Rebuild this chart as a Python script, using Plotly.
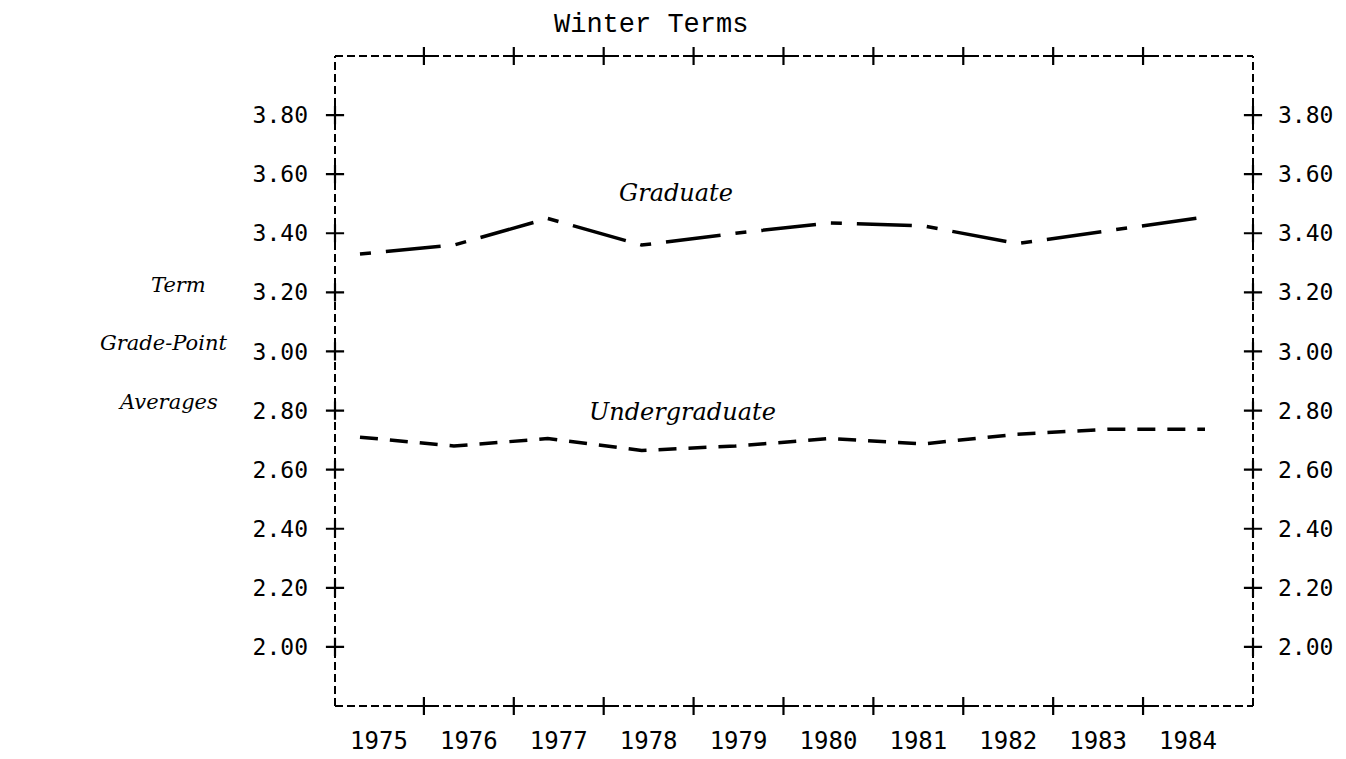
import plotly.graph_objects as go

# ---- data ----
years = [1975, 1976, 1977, 1978, 1979, 1980, 1981, 1982, 1983, 1984]
graduate = [3.33, 3.36, 3.45, 3.36, 3.40, 3.435, 3.425, 3.365, 3.41, 3.455]
undergraduate = [2.71, 2.68, 2.705, 2.665, 2.68, 2.705, 2.687, 2.72, 2.737, 2.737]
y_ticks = [2.00, 2.20, 2.40, 2.60, 2.80, 3.00, 3.20, 3.40, 3.60, 3.80]
y_tick_text = ["%.2f" % v for v in y_ticks]
year_labels = [str(y) for y in years]
border_ticks = [y + 0.5 for y in years[:-1]]

X_RANGE = [1974.734, 1984.511]     # data axis
XL_RANGE = [1974.511, 1984.723]    # label axis
Y_RANGE = [1.80, 4.00]

TICK_FONT = dict(family="DejaVu Sans Mono", size=23, color="black")
ITAL = dict(family="DejaVu Serif", size=24, color="black", style="italic")
ITAL_L = dict(family="DejaVu Serif", size=21, color="black", style="italic")

fig = go.Figure()

fig.add_trace(go.Scatter(x=years, y=graduate, mode="lines",
                         line=dict(color="black", width=3.5, dash="11px,15px,55px,15px"),
                         hoverinfo="skip", showlegend=False))
fig.add_trace(go.Scatter(x=years, y=undergraduate, mode="lines",
                         line=dict(color="black", width=3.5, dash="18px,12px"),
                         hoverinfo="skip", showlegend=False))

plus = dict(symbol="cross-thin", size=13, color="black", line=dict(color="black", width=2.2))
# left / right border pluses
fig.add_trace(go.Scatter(x=[X_RANGE[0]] * len(y_ticks), y=y_ticks, mode="markers",
                         marker=plus, cliponaxis=False, hoverinfo="skip", showlegend=False))
fig.add_trace(go.Scatter(x=[X_RANGE[1]] * len(y_ticks), y=y_ticks, mode="markers",
                         marker=plus, cliponaxis=False, hoverinfo="skip", showlegend=False,
                         yaxis="y2"))
# top / bottom border pluses
fig.add_trace(go.Scatter(x=border_ticks + border_ticks,
                         y=[Y_RANGE[0]] * len(border_ticks) + [Y_RANGE[1]] * len(border_ticks),
                         mode="markers", marker=plus, cliponaxis=False, hoverinfo="skip",
                         showlegend=False, xaxis="x2"))

# dashed frame
for (x0, y0, x1, y1) in [(0, 0, 1, 0), (0, 1, 1, 1), (0, 0, 0, 1), (1, 0, 1, 1)]:
    fig.add_shape(type="line", xref="paper", yref="paper", x0=x0, y0=y0, x1=x1, y1=y1,
                  line=dict(color="black", width=2, dash="8px,4px"))

fig.update_layout(
    width=1346, height=759,
    margin=dict(l=327, r=101, t=48, b=44),
    paper_bgcolor="white", plot_bgcolor="white",
    xaxis=dict(range=X_RANGE, showgrid=False, zeroline=False, showline=False,
               showticklabels=False, ticks=""),
    xaxis2=dict(range=XL_RANGE, overlaying="x", side="bottom", anchor="y",
                tickvals=years, ticktext=year_labels, showgrid=False, zeroline=False,
                showline=False, ticks="", tickfont=dict(TICK_FONT, size=24),
                ticklabelstandoff=18),
    yaxis=dict(range=Y_RANGE, tickvals=y_ticks, ticktext=y_tick_text, showgrid=False,
               zeroline=False, showline=False, ticks="", tickfont=TICK_FONT,
               ticklabelstandoff=26),
    yaxis2=dict(range=Y_RANGE, overlaying="y", side="right", anchor="x",
                tickvals=y_ticks, ticktext=y_tick_text, showgrid=False,
                zeroline=False, showline=False, ticks="", tickfont=TICK_FONT,
                ticklabelstandoff=24),
)

fig.add_annotation(text="Winter Terms", xref="paper", yref="paper", x=0.344, y=1.047,
                   xanchor="center", yanchor="middle", showarrow=False,
                   font=dict(family="Liberation Mono", size=27, color="black"))
fig.add_annotation(text="Graduate", x=1978.37, y=3.538, xanchor="center",
                   showarrow=False, font=ITAL)
fig.add_annotation(text="Undergraduate", x=1978.43, y=2.796, xanchor="center",
                   showarrow=False, font=ITAL)
fig.add_annotation(text="Term", xref="paper", yref="paper", x=-0.170, y=0.648,
                   xanchor="center", showarrow=False, font=ITAL_L)
fig.add_annotation(text="Grade-Point", xref="paper", yref="paper", x=-0.187, y=0.558,
                   xanchor="center", showarrow=False, font=ITAL_L)
fig.add_annotation(text="Averages", xref="paper", yref="paper", x=-0.182, y=0.468,
                   xanchor="center", showarrow=False, font=ITAL_L)

fig.write_html("out.html")
